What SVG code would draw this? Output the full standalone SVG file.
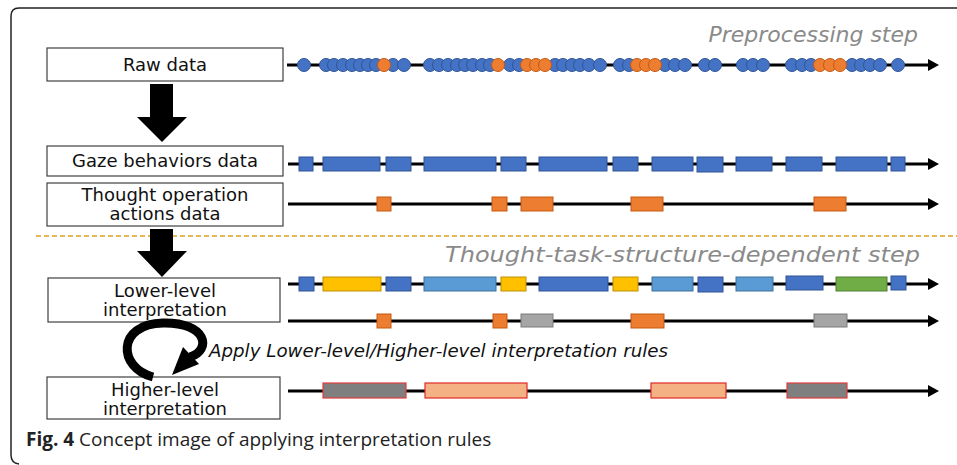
<svg xmlns="http://www.w3.org/2000/svg" width="957" height="465" viewBox="0 0 957 465">
<style>
.box{fill:#fff;stroke:#404040;stroke-width:1.2}
.lbl{font-family:"DejaVu Sans",Verdana,sans-serif;font-size:18px;fill:#111;text-anchor:middle}
.step{font-family:"DejaVu Sans",Verdana,sans-serif;font-size:22px;font-style:italic;fill:#8a8a8a;text-anchor:end}
.tl{stroke:#000;stroke-width:3;fill:none}
.ah{fill:#000}
.b{fill:#4472C4;stroke:#2F5597;stroke-width:1}
.o{fill:#ED7D31;stroke:#C55A11;stroke-width:1}
.y{fill:#FFC000;stroke:#BF9000;stroke-width:1}
.lb{fill:#5B9BD5;stroke:#41719C;stroke-width:1}
.g{fill:#70AD47;stroke:#507E32;stroke-width:1}
.gr{fill:#A5A5A5;stroke:#7B7B7B;stroke-width:1}
.dg{fill:#7F7F7F;stroke:#E03C3C;stroke-width:1.2}
.sa{fill:#F4B183;stroke:#E02828;stroke-width:1.2}
</style>
<defs>
<circle id="db" r="6.5" class="b"/>
<circle id="do" r="6.5" class="o"/>
</defs>

<!-- frame -->
<path d="M957 8 H19 Q11 8 11 16 V455 Q11 463 19 464" fill="none" stroke="#222" stroke-width="1.5"/>

<!-- step labels -->
<text class="step" x="918" y="42">Preprocessing step</text>
<line x1="36" y1="236" x2="957" y2="236" stroke="#E0A020" stroke-width="1.5" stroke-dasharray="5,3"/>
<text class="step" x="920" y="262" font-size="23" textLength="475" lengthAdjust="spacingAndGlyphs">Thought-task-structure-dependent step</text>

<!-- nodes -->
<g id="raw">
<rect class="box" x="47" y="48" width="236" height="33"/>
<text class="lbl" x="165" y="71">Raw data</text>
</g>
<g id="gaze">
<rect class="box" x="47" y="146" width="236" height="30"/>
<text class="lbl" x="165" y="167">Gaze behaviors data</text>
</g>
<g id="thought">
<rect class="box" x="47" y="183" width="236" height="43"/>
<text class="lbl" x="165" y="201">Thought operation</text>
<text class="lbl" x="165" y="220">actions data</text>
</g>
<g id="lower">
<rect class="box" x="48" y="278" width="232" height="44"/>
<text class="lbl" x="165" y="297">Lower-level</text>
<text class="lbl" x="165" y="316">interpretation</text>
</g>
<g id="higher">
<rect class="box" x="47" y="377" width="233" height="42"/>
<text class="lbl" x="165" y="396">Higher-level</text>
<text class="lbl" x="165" y="415">interpretation</text>
</g>

<!-- connectors -->
<g id="connectors">
<polygon points="150,84 173,84 173,117 187,117 162,142 137,117 150,117" fill="#000"/>
<polygon points="150,229 173,229 173,251 187,251 162,277 137,251 150,251" fill="#000"/>
<path d="M153 377 C118 368 116 324 163 323 C207 322 212 350 190 357" fill="none" stroke="#000" stroke-width="9"/>
<polygon points="172,375 183,347 199,364" fill="#000"/>
<text x="209" y="357" font-family="DejaVu Sans,Verdana,sans-serif" font-size="18" font-style="italic" fill="#111" textLength="459" lengthAdjust="spacingAndGlyphs">Apply Lower-level/Higher-level interpretation rules</text>
</g>

<!-- timelines -->
<g id="timelines">
<line class="tl" x1="287" y1="65" x2="930" y2="65"/><polygon class="ah" points="928,59 939,65 928,71"/>
<line class="tl" x1="288" y1="164" x2="930" y2="164"/><polygon class="ah" points="928,158 939,164 928,170"/>
<line class="tl" x1="288" y1="204" x2="930" y2="204"/><polygon class="ah" points="928,198 939,204 928,210"/>
<line class="tl" x1="288" y1="284" x2="930" y2="284"/><polygon class="ah" points="928,278 939,284 928,290"/>
<line class="tl" x1="288" y1="321" x2="930" y2="321"/><polygon class="ah" points="928,315 939,321 928,327"/>
<line class="tl" x1="288" y1="391" x2="930" y2="391"/><polygon class="ah" points="928,385 939,391 928,397"/>
</g>

<!-- raw data dots -->
<g id="raw-dots" transform="translate(0,65)">
<use href="#db" x="304"/>
<use href="#db" x="326"/><use href="#db" x="334"/><use href="#db" x="343"/><use href="#db" x="352"/><use href="#db" x="360"/><use href="#db" x="368"/><use href="#db" x="376"/><use href="#db" x="393"/><use href="#db" x="404"/><use href="#do" x="384"/>
<use href="#db" x="430"/><use href="#db" x="439"/><use href="#db" x="448"/><use href="#db" x="457"/><use href="#db" x="465"/><use href="#db" x="473"/><use href="#db" x="482"/><use href="#db" x="490"/><use href="#db" x="510"/><use href="#db" x="519"/><use href="#db" x="555"/><use href="#db" x="563"/><use href="#db" x="572"/><use href="#db" x="580"/><use href="#db" x="589"/><use href="#db" x="600"/>
<use href="#do" x="498"/><use href="#do" x="527"/><use href="#do" x="536"/><use href="#do" x="545"/>
<use href="#db" x="620"/><use href="#db" x="629"/><use href="#db" x="665"/><use href="#db" x="675"/><use href="#db" x="685"/>
<use href="#do" x="637"/><use href="#do" x="646"/><use href="#do" x="655"/>
<use href="#db" x="705"/><use href="#db" x="715"/>
<use href="#db" x="743"/><use href="#db" x="753"/><use href="#db" x="763"/>
<use href="#db" x="792"/><use href="#db" x="802"/><use href="#db" x="811"/><use href="#db" x="852"/><use href="#db" x="861"/><use href="#db" x="870"/><use href="#db" x="880"/>
<use href="#do" x="820"/><use href="#do" x="830"/><use href="#do" x="840"/>
<use href="#db" x="898"/>
</g>

<!-- gaze behaviors -->
<g id="gaze-bars">
<rect class="b" x="299" y="157" width="14" height="14"/>
<rect class="b" x="323" y="157" width="57" height="14"/>
<rect class="b" x="386" y="157" width="25" height="14"/>
<rect class="b" x="424" y="157" width="72" height="14"/>
<rect class="b" x="501" y="157" width="25" height="14"/>
<rect class="b" x="539" y="157" width="68" height="14"/>
<rect class="b" x="613" y="157" width="25" height="14"/>
<rect class="b" x="652" y="157" width="41" height="14"/>
<rect class="b" x="697" y="157" width="26" height="15"/>
<rect class="b" x="736" y="157" width="36" height="14"/>
<rect class="b" x="786" y="157" width="36" height="14"/>
<rect class="b" x="836" y="157" width="51" height="14"/>
<rect class="b" x="891" y="157" width="14" height="14"/>
</g>

<!-- thought operations -->
<g id="thought-bars">
<rect class="o" x="377" y="197" width="14" height="14"/>
<rect class="o" x="492" y="197" width="15" height="14"/>
<rect class="o" x="521" y="197" width="32" height="14"/>
<rect class="o" x="631" y="197" width="32" height="14"/>
<rect class="o" x="814" y="197" width="32" height="14"/>
</g>

<!-- lower-level -->
<g id="lower-bars">
<rect class="b" x="299" y="277" width="15" height="14"/>
<rect class="y" x="323" y="277" width="58" height="14"/>
<rect class="b" x="386" y="277" width="25" height="14"/>
<rect class="lb" x="424" y="277" width="72" height="14"/>
<rect class="y" x="501" y="277" width="25" height="14"/>
<rect class="b" x="539" y="277" width="69" height="14"/>
<rect class="y" x="613" y="277" width="25" height="14"/>
<rect class="lb" x="652" y="277" width="41" height="14"/>
<rect class="b" x="698" y="277" width="25" height="15"/>
<rect class="lb" x="736" y="277" width="37" height="14"/>
<rect class="b" x="786" y="276" width="37" height="14"/>
<rect class="g" x="836" y="277" width="51" height="14"/>
<rect class="b" x="891" y="276" width="15" height="14"/>
<rect class="o" x="377" y="314" width="14" height="14"/>
<rect class="o" x="493" y="314" width="14" height="14"/>
<rect class="gr" x="521" y="314" width="32" height="13"/>
<rect class="o" x="631" y="314" width="33" height="14"/>
<rect class="gr" x="814" y="314" width="33" height="13"/>
</g>

<!-- higher-level -->
<g id="higher-bars">
<rect class="dg" x="323" y="383" width="83" height="15"/>
<rect class="sa" x="425" y="383" width="102" height="15"/>
<rect class="sa" x="651" y="383" width="75" height="15"/>
<rect class="dg" x="787" y="383" width="60" height="15"/>
</g>

<!-- caption -->
<text x="26" y="446" font-family="Open Sans,Liberation Sans,sans-serif" font-size="19" fill="#222"><tspan font-weight="bold">Fig. 4</tspan> Concept image of applying interpretation rules</text>
</svg>
